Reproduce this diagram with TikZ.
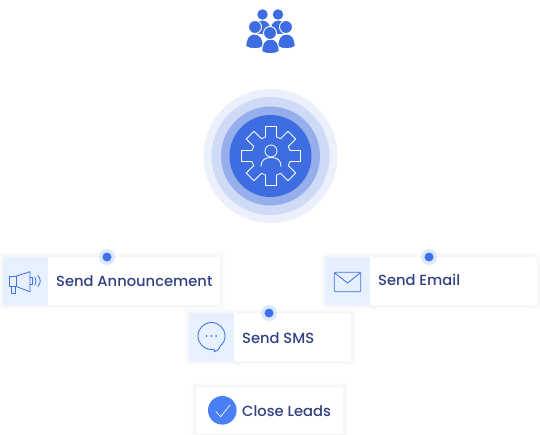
\documentclass[tikz,border=0pt]{standalone}
\usepackage{fontspec}
\setmainfont{Poppins Medium}
\definecolor{bluemain}{HTML}{3D6DE0}
\definecolor{bluecheck}{HTML}{4A7FF5}
\definecolor{iconline}{HTML}{4470E8}
\definecolor{ring1}{HTML}{EBF0FC}
\definecolor{ring2}{HTML}{CFDAF6}
\definecolor{ring3}{HTML}{96AFEC}
\definecolor{iconbg}{HTML}{E6F0FE}
\definecolor{halo}{HTML}{DCE9FD}
\definecolor{dotblue}{HTML}{3F72EA}
\definecolor{labelcol}{HTML}{2F4180}
\tikzset{
  x=1pt,y=-1pt,
  card/.style={fill=white,rounded corners=1.5pt,anchor=north west,inner sep=0pt,outer sep=0pt},
  iconcell/.style={fill=iconbg,anchor=north west,inner sep=0pt,outer sep=0pt,minimum height=48pt,minimum width=45pt},
  label/.style={anchor=base west,inner sep=0pt,text=labelcol,font=\fontsize{14.7}{16}\selectfont},
  halodot/.style={circle,fill=halo,minimum size=16pt,inner sep=0pt},
  coredot/.style={circle,fill=dotblue,minimum size=9pt,inner sep=0pt},
  ring/.style={circle,inner sep=0pt,draw=none},
  iconstroke/.style={draw=iconline,line width=0.85pt,line join=round,line cap=round},
  people/.style={fill=bluemain,draw=white,line width=0.9pt},
}
\newcommand{\softshadow}[4]{%
  \foreach \s in {5,4.5,4,3.5,3,2.5,2,1.5,1,0.5}{%
    \fill[black,opacity=0.005,rounded corners=3pt]
      ({#1-\s},{#2-\s}) rectangle ({#3+\s},{#4+\s});
  }}
\newcommand{\personbody}[2]{% centre x, top y
  \path[people] ({#1-8.5},{#2+12.5})
    .. controls ({#1-8.8},{#2+5}) and ({#1-6},{#2}) .. ({#1},{#2})
    .. controls ({#1+6},{#2}) and ({#1+8.8},{#2+5}) .. ({#1+8.5},{#2+12.5})
    .. controls ({#1+5},{#2+15.4}) and ({#1-5},{#2+15.4}) .. cycle;}
\newcommand{\tooth}[1]{-- ([rotate={0-#1}]-5.5,-29.5) -- ([rotate={0-#1}]5.5,-29.5) -- ([rotate={0-#1}]5.5,-19) -- ([rotate={0-#1-45}]-5.5,-19)}
\begin{document}
\begin{tikzpicture}
\useasboundingbox (0,0) rectangle (540,435);
% people icon
\personbody{262.5}{20}
\personbody{278.5}{20}
\node[circle,fill=bluemain,minimum size=10.5pt,inner sep=0pt] (headTL) at (262.5,14.5) {};
\node[circle,fill=bluemain,minimum size=10.5pt,inner sep=0pt] (headTR) at (278,14.5) {};
\personbody{254.5}{34}
\personbody{286.5}{34}
\node[circle,people,minimum size=13pt,inner sep=0pt] (headL) at (255,27) {};
\node[circle,people,minimum size=13pt,inner sep=0pt] (headR) at (286,27) {};
\personbody{270.5}{39}
\node[circle,people,minimum size=13pt,inner sep=0pt] (headC) at (270,33) {};
% rings
\node[ring,fill=ring1,minimum size=134pt] (r1) at (270.5,156) {};
\node[ring,fill=ring2,minimum size=118pt] (r2) at (270.5,156) {};
\node[ring,fill=ring3,minimum size=99pt] (r3) at (270.5,156) {};
\node[ring,fill=bluemain,minimum size=82pt] (r4) at (270.5,156) {};
% gear
\draw[white,line width=0.8pt,line join=round,shift={(271,156)}]
  ([rotate=0]-5.5,-29.5)
  \tooth{0} \tooth{45} \tooth{90} \tooth{135} \tooth{180} \tooth{225} \tooth{270} \tooth{315} -- cycle;
\draw[white,line width=0.8pt] (271,151) circle (6);
\draw[white,line width=0.8pt,line cap=round] (261,166.5) .. controls (261,160) and (265,157.5) .. (271,157.5) .. controls (277,157.5) and (281,160) .. (281,166.5);
% Announcement
\softshadow{3}{257}{220}{305}
\node[card,minimum width=217pt,minimum height=48pt] (annCard) at (3,257) {};
\node[iconcell] (annIcon) at (3,257) {};
\node[label] (annText) at (56,287) {Send Announcement};
\draw[iconstroke] (9.3,276) rectangle (16.7,286.7);
\draw[iconstroke] (16.7,276) -- (30,271.7) -- (30,291.7) -- (16.7,286.7);
\draw[iconstroke] (11.3,286.7) rectangle (15.7,293.3);
\draw[iconstroke] (30,277.7) -- (32.7,277.7) -- (32.7,284.3) -- (30,284.3);
\draw[iconstroke] (34.8,277) .. controls (36.4,279.5) and (36.4,282.5) .. (34.8,285);
\draw[iconstroke] (38,275.5) .. controls (41,279.5) and (41,282.5) .. (38,286.5);
\node[halodot] (annHalo) at (107,257) {};
\node[coredot] (annDot) at (107,257) {};
% Email
\softshadow{325}{257}{537}{305}
\node[card,minimum width=212pt,minimum height=48pt] (mailCard) at (325,257) {};
\node[iconcell] (mailIcon) at (325,257) {};
\node[label] (mailText) at (378,285) {Send Email};
\draw[iconstroke,rounded corners=1pt] (334.3,272.3) rectangle (360.7,291.7);
\draw[iconstroke] (334.8,273) -- (347.5,283) -- (360.2,273);
\node[halodot] (mailHalo) at (429,257) {};
\node[coredot] (mailDot) at (429,257) {};
% SMS
\softshadow{189}{313}{351}{361}
\node[card,minimum width=162pt,minimum height=48pt] (smsCard) at (189,313) {};
\node[iconcell] (smsIcon) at (189,313) {};
\node[label] (smsText) at (242,343) {Send SMS};
\draw[iconstroke] (213.5,349.2) .. controls (215,350) and (215,351) .. (214.2,351.8)
  .. controls (217,351) and (219,349.5) .. (220.3,346)
  .. controls (223.5,343.5) and (225,339.8) .. (225,336)
  .. controls (225,328.5) and (219,322.5) .. (211.5,322.5)
  .. controls (204,322.5) and (198,328.5) .. (198,336)
  .. controls (198,343.5) and (204,349.5) .. (211.5,349.5)
  .. controls (212,349.5) and (212.8,349.4) .. (213.5,349.2);
\fill[iconline] (206.7,336) circle (1) (211.3,336) circle (1) (216,336) circle (1);
\node[halodot] (smsHalo) at (269,313) {};
\node[coredot] (smsDot) at (269,313) {};
% Close Leads
\softshadow{196}{387}{343}{434}
\node[card,minimum width=147pt,minimum height=47pt] (closeCard) at (196,387) {};
\node[circle,fill=bluecheck,minimum size=28.6pt,inner sep=0pt] (closeBadge) at (222.3,410.3) {};
\draw[white,line width=0.7pt,line cap=round,line join=round] (216,411.7) -- (220.7,416.7) -- (230,405);
\node[label] (closeText) at (242,416) {Close Leads};
\end{tikzpicture}
\end{document}
